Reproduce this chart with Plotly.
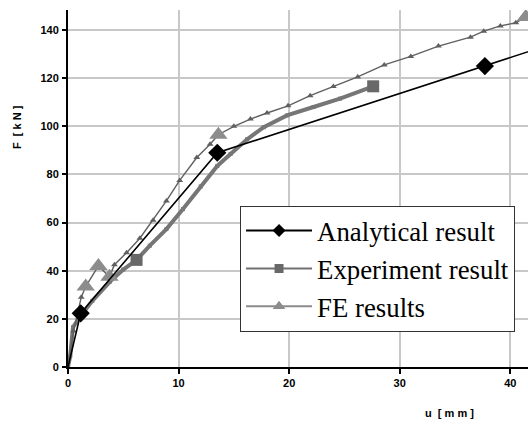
import plotly.graph_objects as go

# ---- data ----
ana_u = [0, 1.15, 13.5, 37.7, 50]
ana_F = [0, 22.3, 89.0, 125.0, 143.5]
ana_mark_u = [1.15, 13.5, 37.7]
ana_mark_F = [22.3, 89.0, 125.0]

exp_u = [0, 0.2, 0.45, 1.1, 2.2, 3.8, 5.0, 6.2, 7.4, 8.9, 10.4, 12.0, 13.5, 14.7,
         16.2, 17.7, 19.8, 22.2, 24.6, 27.6]
exp_F = [0, 4.5, 16.5, 21.0, 27.5, 35.5, 40.5, 44.5, 50.4, 57.3, 65.6, 75.0, 83.5, 88.5,
         94.6, 99.6, 104.5, 108.0, 111.5, 116.6]
exp_mark_u = [6.2, 27.6]
exp_mark_F = [44.5, 116.6]

fe_u = [0, 0.5, 1.2, 1.6, 2.75, 3.75, 4.2, 5.3, 6.5, 7.7, 8.9, 10.1, 11.65, 12.85, 13.6,
        15.0, 16.5, 18.0, 19.9, 21.9, 24.0, 26.2, 28.6, 31.0, 33.5, 36.4, 37.6, 39.1,
        40.5, 41.4, 44.0]
fe_F = [0, 15.0, 29.0, 33.4, 42.0, 37.5, 42.5, 47.5, 53.5, 61.0, 69.0, 77.5, 87.0, 92.5, 96.5,
        100.0, 103.0, 105.5, 108.5, 112.7, 116.5, 120.5, 125.5, 129.0, 133.3, 137.0, 139.5,
        141.7, 143.0, 145.4, 149.0]
fe_mark_u = [1.6, 2.75, 3.75, 13.6, 41.4]
fe_mark_F = [33.4, 42.0, 37.5, 96.5, 145.4]

x_ticks = [0, 10, 20, 30, 40]
y_ticks = [0, 20, 40, 60, 80, 100, 120, 140]

names = ["Analytical result", "Experiment result", "FE results"]

# ---- styles ----
C_ANA = "#000000"
C_EXP_LINE = "#767676"
C_EXP_MARK = "#686868"
C_FE_LINE = "#606060"
C_FE_MARK = "#8c8c8c"

fig = go.Figure()

# experiment (thick gray)
fig.add_trace(go.Scatter(x=exp_u, y=exp_F, mode="lines+markers",
                         line=dict(color=C_EXP_LINE, width=4),
                         marker=dict(symbol="square", size=4, color=C_EXP_LINE),
                         showlegend=False, hoverinfo="skip"))
fig.add_trace(go.Scatter(x=exp_mark_u, y=exp_mark_F, mode="markers",
                         marker=dict(symbol="square", size=12, color=C_EXP_MARK),
                         showlegend=False))
# FE (thin gray with small triangles)
fig.add_trace(go.Scatter(x=fe_u, y=fe_F, mode="lines+markers",
                         line=dict(color=C_FE_LINE, width=1.4),
                         marker=dict(symbol="triangle-up", size=6, color=C_FE_LINE),
                         showlegend=False, hoverinfo="skip"))
fig.add_trace(go.Scatter(x=fe_mark_u, y=fe_mark_F, mode="markers",
                         marker=dict(symbol="triangle-up", size=16, color=C_FE_MARK),
                         showlegend=False))
# analytical (thin black)
fig.add_trace(go.Scatter(x=ana_u, y=ana_F, mode="lines",
                         line=dict(color=C_ANA, width=1.6),
                         showlegend=False, hoverinfo="skip"))
fig.add_trace(go.Scatter(x=ana_mark_u, y=ana_mark_F, mode="markers",
                         marker=dict(symbol="diamond", size=14, color=C_ANA),
                         showlegend=False))

# legend entries
leg_styles = [
    (C_ANA, "diamond", 10, C_ANA, 2),
    ("#707070", "square", 9, C_EXP_MARK, 2),
    (C_FE_MARK, "triangle-up", 11, C_FE_MARK, 2),
]
for nm, (lc, sym, ms, mc, lw) in zip(names, leg_styles):
    fig.add_trace(go.Scatter(x=[None], y=[None], mode="lines+markers", name=nm,
                             line=dict(color=lc, width=lw),
                             marker=dict(symbol=sym, size=ms, color=mc)))

tickfont = dict(family="Liberation Sans", size=11, color="black", weight="bold")
titlefont = dict(family="Liberation Sans", size=11, color="black", weight="bold")

fig.update_layout(
    width=528, height=424,
    margin=dict(l=68, r=0, t=10, b=57),
    paper_bgcolor="white", plot_bgcolor="white",
    xaxis=dict(range=[0, 41.6], tickvals=x_ticks, showgrid=True, gridcolor="#c8c8c8",
               gridwidth=2, showline=True, linecolor="black", linewidth=2,
               ticks="outside", ticklen=5, tickwidth=2, tickcolor="black",
               tickfont=tickfont, zeroline=False),
    yaxis=dict(range=[0, 148.3], tickvals=y_ticks, showgrid=True, gridcolor="#c8c8c8",
               gridwidth=2, showline=True, linecolor="black", linewidth=2,
               ticks="outside", ticklen=4, tickwidth=2, tickcolor="black",
               tickfont=tickfont, zeroline=False, ticklabelstandoff=1),
    legend=dict(x=0.374, y=0.452, xanchor="left", yanchor="top",
                bgcolor="white", bordercolor="#333333", borderwidth=1,
                font=dict(family="Liberation Serif, Times New Roman, serif",
                          size=26.8, color="black"),
                itemwidth=66, tracegroupgap=0),
    annotations=[
        dict(text="F  [ k N ]", xref="paper", yref="paper", x=-0.111, y=0.672,
             textangle=-90, showarrow=False, xanchor="center", yanchor="middle",
             font=titlefont),
        dict(text="u  [ m m ]", xref="paper", yref="paper", x=0.830, y=-0.129,
             showarrow=False, xanchor="center", yanchor="middle",
             font=titlefont),
    ],
)

fig.write_html("out.html")
